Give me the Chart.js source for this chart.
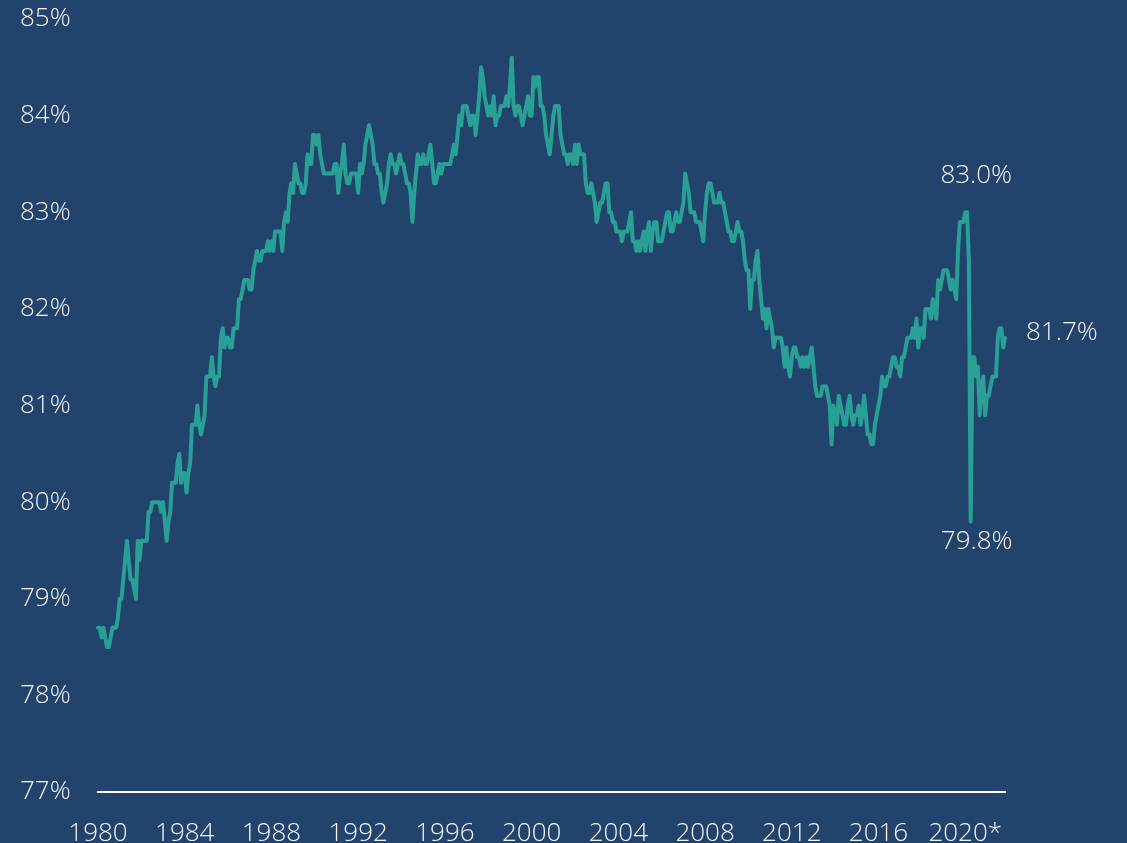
<!DOCTYPE html>
<html>
<head>
<meta charset="utf-8">
<script src="https://cdn.jsdelivr.net/npm/chart.js@4.4.1/dist/chart.umd.min.js"></script>
<style>
  html, body { margin: 0; padding: 0; background: #22436b; }
  #wrap { width: 1127px; height: 843px; position: relative; }
  canvas { display: block; }
</style>
</head>
<body>
<div id="wrap"><canvas id="c" width="1127" height="843"></canvas></div>
<script>
// Monthly values (%), Jan 1980 onward
const rate1980s = [
  78.7, 78.7, 78.6, 78.7, 78.6, 78.5, 78.5, 78.6, 78.7, 78.7, 78.7, 78.8,
  79.0, 79.0, 79.2, 79.4, 79.6, 79.4, 79.2, 79.2, 79.1, 79.0, 79.6, 79.4,
  79.6, 79.6, 79.6, 79.6, 79.9, 79.9, 80.0, 80.0, 80.0, 80.0, 80.0, 79.9,
  80.0, 79.8, 79.6, 79.8, 79.9, 80.2, 80.2, 80.2, 80.4, 80.5, 80.2, 80.3,
  80.3, 80.1, 80.3, 80.4, 80.8, 80.8, 80.8, 81.0, 80.8, 80.7, 80.8, 80.9,
  81.3, 81.3, 81.3, 81.5, 81.3, 81.2, 81.3, 81.3, 81.7, 81.8, 81.6, 81.7,
  81.7, 81.6, 81.6, 81.8, 81.8, 81.8, 82.1, 82.1, 82.2, 82.3, 82.3, 82.3,
  82.2, 82.2, 82.4, 82.5, 82.6, 82.5, 82.5, 82.6, 82.6, 82.6, 82.7, 82.6,
  82.7, 82.6, 82.8, 82.8, 82.8, 82.8, 82.6, 82.9, 83.0, 82.9, 83.2, 83.3,
  83.2, 83.5, 83.4, 83.3, 83.3, 83.2, 83.2, 83.3, 83.6, 83.5, 83.5, 83.8
];
const rate1990s = [
  83.8, 83.7, 83.8, 83.6, 83.5, 83.4, 83.4, 83.4, 83.4, 83.4, 83.4, 83.5,
  83.5, 83.2, 83.4, 83.5, 83.7, 83.4, 83.3, 83.3, 83.4, 83.4, 83.4, 83.4,
  83.2, 83.5, 83.4, 83.5, 83.7, 83.8, 83.9, 83.8, 83.7, 83.5, 83.5, 83.4,
  83.4, 83.2, 83.1, 83.2, 83.3, 83.5, 83.6, 83.5, 83.5, 83.4, 83.5, 83.6,
  83.5, 83.5, 83.4, 83.3, 83.3, 83.2, 82.9, 83.2, 83.4, 83.6, 83.5, 83.5,
  83.6, 83.5, 83.5, 83.6, 83.7, 83.5, 83.3, 83.3, 83.4, 83.5, 83.4, 83.5,
  83.5, 83.5, 83.5, 83.5, 83.6, 83.7, 83.6, 83.8, 84.0, 83.9, 84.1, 84.1,
  84.1, 84.0, 83.9, 84.0, 84.0, 83.8, 84.0, 84.2, 84.5, 84.4, 84.2, 84.1,
  84.0, 84.1, 84.0, 84.2, 83.9, 84.0, 84.0, 84.1, 84.1, 84.1, 84.2, 84.1,
  84.3, 84.6, 84.1, 84.0, 84.1, 84.1, 84.0, 83.9, 84.0, 84.1, 84.2, 84.0
];
const rate2000s = [
  84.0, 84.4, 84.3, 84.4, 84.4, 84.1, 84.1, 84.0, 83.8, 83.7, 83.6, 83.8,
  84.0, 84.1, 84.1, 84.1, 83.8, 83.7, 83.6, 83.6, 83.5, 83.6, 83.6, 83.5,
  83.7, 83.5, 83.7, 83.6, 83.6, 83.6, 83.3, 83.2, 83.2, 83.3, 83.2, 83.1,
  82.9, 83.0, 83.1, 83.1, 83.2, 83.3, 83.3, 83.0, 83.0, 82.9, 82.9, 82.8,
  82.8, 82.8, 82.7, 82.8, 82.8, 82.8, 82.9, 83.0, 82.7, 82.7, 82.6, 82.7,
  82.6, 82.7, 82.8, 82.6, 82.8, 82.9, 82.6, 82.8, 82.9, 82.9, 82.7, 82.7,
  82.7, 82.8, 82.9, 83.0, 83.0, 82.8, 82.8, 82.9, 83.0, 82.9, 82.9, 83.0,
  83.1, 83.4, 83.3, 83.2, 83.0, 83.0, 83.0, 82.9, 82.9, 82.9, 82.8, 82.7,
  83.0, 83.2, 83.3, 83.3, 83.2, 83.1, 83.1, 83.1, 83.2, 83.1, 83.1, 83.0,
  82.9, 82.8, 82.8, 82.7, 82.7, 82.8, 82.9, 82.8, 82.8, 82.7, 82.5, 82.4
];
const rate2010s = [
  82.4, 82.0, 82.3, 82.3, 82.5, 82.6, 82.3, 82.1, 81.9, 82.0, 81.8, 82.0,
  81.9, 81.8, 81.6, 81.7, 81.7, 81.7, 81.7, 81.6, 81.4, 81.6, 81.4, 81.3,
  81.5, 81.6, 81.6, 81.5, 81.5, 81.4, 81.5, 81.4, 81.5, 81.4, 81.5, 81.6,
  81.4, 81.2, 81.1, 81.1, 81.1, 81.2, 81.2, 81.2, 81.1, 81.0, 80.6, 81.0,
  80.9, 80.8, 81.1, 81.0, 80.9, 80.8, 80.8, 81.0, 81.1, 80.9, 80.8, 80.9,
  80.9, 81.0, 80.8, 80.9, 81.1, 80.9, 80.7, 80.7, 80.6, 80.6, 80.8, 80.9,
  81.0, 81.1, 81.3, 81.2, 81.2, 81.3, 81.3, 81.4, 81.5, 81.5, 81.4, 81.4,
  81.3, 81.5, 81.5, 81.6, 81.7, 81.7, 81.7, 81.8, 81.7, 81.9, 81.6, 81.8,
  81.8, 81.7, 82.0, 82.0, 82.0, 81.9, 82.1, 82.0, 81.9, 82.3, 82.2, 82.3,
  82.4, 82.4, 82.4, 82.3, 82.2, 82.3, 82.2, 82.1, 82.6, 82.9, 82.9, 82.9
];
const rate2020s = [
  83.0, 83.0, 82.5, 79.8, 81.5, 81.5, 81.3, 81.4, 80.9, 81.2, 81.3, 80.9,
  81.1, 81.1, 81.2, 81.3, 81.3, 81.3, 81.7, 81.8, 81.8, 81.6, 81.7
];
const startYear = 1980;
const xTickLabels = ['1980', '1984', '1988', '1992', '1996', '2000', '2004', '2008', '2012', '2016', '2020*'];
const yTicks = [77, 78, 79, 80, 81, 82, 83, 84, 85];

const values = [].concat(rate1980s, rate1990s, rate2000s, rate2010s, rate2020s);
const categories = values.map((v, i) => (startYear + Math.floor(i / 12)) + '-' + String(i % 12 + 1).padStart(2, '0'));

// indices to annotate (peak before the 2020 fall, 2020 trough, latest)
const covidStart = categories.indexOf('2019-01');
let peakIdx = covidStart, troughIdx = covidStart;
for (let i = covidStart; i < values.length; i++) {
  if (values[i] > values[peakIdx]) peakIdx = i;
  if (values[i] < values[troughIdx]) troughIdx = i;
}
const lastIdx = values.length - 1;

const FONT = "'Open Sans', 'DejaVu Sans', sans-serif";
const TEXT = '#f2f4f7';
const FSIZE = 26;

const labelPlugin = {
  id: 'valueLabels',
  afterDatasetsDraw(chart) {
    const ctx = chart.ctx;
    const meta = chart.getDatasetMeta(0);
    const items = [
      { i: peakIdx, dx: 11, dy: -37, align: 'center' },
      { i: troughIdx, dx: 6, dy: 20, align: 'center' },
      { i: lastIdx, dx: 21, dy: -5, align: 'left' }
    ];
    ctx.save();
    ctx.fillStyle = TEXT;
    ctx.font = '300 ' + FSIZE + 'px ' + FONT;
    ctx.textBaseline = 'middle';
    items.forEach(it => {
      const p = meta.data[it.i];
      ctx.textAlign = it.align;
      ctx.fillText(values[it.i].toFixed(1) + '%', p.x + it.dx, p.y + it.dy);
    });
    ctx.restore();
  }
};

new Chart(document.getElementById('c'), {
  type: 'line',
  data: {
    labels: categories,
    datasets: [{
      data: values,
      borderColor: '#29a096',
      borderWidth: 4,
      pointRadius: 0,
      tension: 0,
      borderJoinStyle: 'round',
      borderCapStyle: 'round',
      fill: false
    }]
  },
  options: {
    responsive: false,
    animation: false,
    devicePixelRatio: 1,
    layout: { padding: { left: 20, right: 122, top: 19, bottom: 0 } },
    plugins: { legend: { display: false }, tooltip: { enabled: false } },
    scales: {
      x: {
        type: 'category',
        offset: false,
        grid: { display: false, drawTicks: false },
        border: { display: true, color: '#ffffff', width: 2 },
        afterFit(scale) { scale.height = 51; },
        ticks: {
          autoSkip: false,
          maxRotation: 0,
          minRotation: 0,
          padding: 26,
          color: TEXT,
          font: { family: FONT, size: FSIZE, weight: '300' },
          callback(val, index) {
            return index % 48 === 0 ? (xTickLabels[index / 48] || '') : '';
          }
        }
      },
      y: {
        min: yTicks[0],
        max: yTicks[yTicks.length - 1],
        afterFit(scale) { scale.width = 78; },
        afterBuildTicks(scale) { scale.ticks = yTicks.map(v => ({ value: v })); },
        grid: { display: false, drawTicks: false },
        border: { display: false },
        ticks: {
          crossAlign: 'far',
          padding: 0,
          color: TEXT,
          font: { family: FONT, size: FSIZE, weight: '300' },
          callback(v) { return v + '%'; }
        }
      }
    }
  },
  plugins: [labelPlugin]
});
</script>
</body>
</html>
